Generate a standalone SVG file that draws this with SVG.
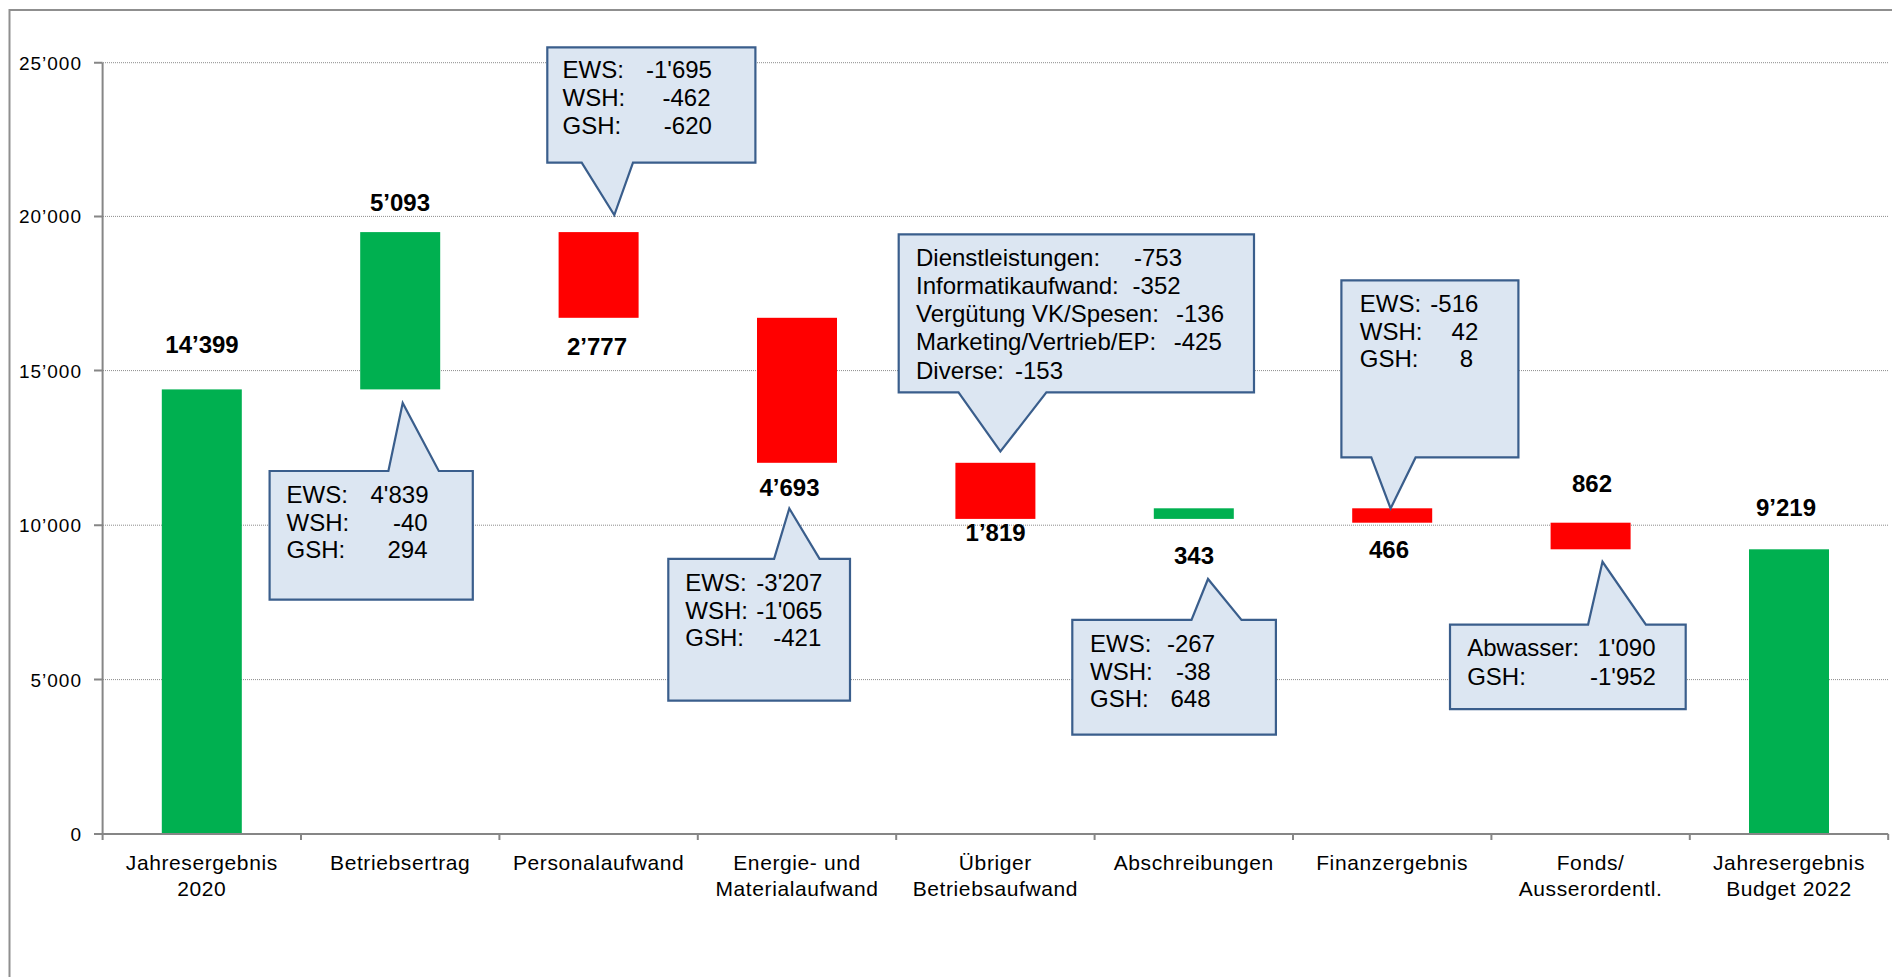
<svg xmlns="http://www.w3.org/2000/svg" width="1892" height="977" viewBox="0 0 1892 977">
<style>
.frame{fill:none;stroke:#8f8f8f;stroke-width:2}
.grid{stroke:#8c8c8c;stroke-width:1;stroke-dasharray:1 1}
.axis{stroke:#868686;stroke-width:2;fill:none}
.g{fill:#00B050}
.r{fill:#FF0000}
.ytick{font-family:"Liberation Sans",Arial,sans-serif;font-size:19px;letter-spacing:1px;text-anchor:end;fill:#000}
.cat{font-family:"Liberation Sans",Arial,sans-serif;font-size:21px;letter-spacing:0.6px;text-anchor:middle;fill:#000}
.val{font-family:"Liberation Sans",Arial,sans-serif;font-size:24px;font-weight:bold;text-anchor:middle;fill:#000}
.co{fill:#DCE6F2;stroke:#3A5E8C;stroke-width:2.2;stroke-linejoin:miter}
.ct{font-family:"Liberation Sans",Arial,sans-serif;font-size:24px;fill:#000}
</style>
<rect x="0" y="0" width="1892" height="977" fill="#fff"/>
<rect class="frame" x="9.5" y="10" width="1900" height="1000"/>
<g id="gridlines">
<line class="grid" x1="103" y1="62.7" x2="1888" y2="62.7"/>
<line class="grid" x1="103" y1="216.4" x2="1888" y2="216.4"/>
<line class="grid" x1="103" y1="370.6" x2="1888" y2="370.6"/>
<line class="grid" x1="103" y1="525.2" x2="1888" y2="525.2"/>
<line class="grid" x1="103" y1="679.6" x2="1888" y2="679.6"/>
</g>
<g id="bar-jahresergebnis-2020"><rect class="g" x="161.8" y="389.4" width="80" height="444.6"/><text class="val" x="202" y="353">14’399</text></g>
<g id="bar-betriebsertrag"><rect class="g" x="360.2" y="232.1" width="80" height="157.3"/><text class="val" x="400" y="211">5’093</text></g>
<g id="bar-personalaufwand"><rect class="r" x="558.6" y="232.1" width="80" height="85.7"/><text class="val" x="597" y="355">2’777</text></g>
<g id="bar-energie"><rect class="r" x="757" y="317.8" width="80" height="145"/><text class="val" x="789.5" y="496">4’693</text></g>
<g id="bar-uebriger"><rect class="r" x="955.4" y="462.8" width="80" height="56.1"/><text class="val" x="995.6" y="541">1’819</text></g>
<g id="bar-abschreibungen"><rect class="g" x="1153.8" y="508.3" width="80" height="10.6"/><text class="val" x="1194" y="564">343</text></g>
<g id="bar-finanzergebnis"><rect class="r" x="1352.2" y="508.3" width="80" height="14.4"/><text class="val" x="1389" y="557.5">466</text></g>
<g id="bar-fonds"><rect class="r" x="1550.6" y="522.7" width="80" height="26.6"/><text class="val" x="1592" y="491.5">862</text></g>
<g id="bar-jahresergebnis-2022"><rect class="g" x="1749" y="549.3" width="80" height="284.7"/><text class="val" x="1786" y="516">9’219</text></g>
<g id="axes">
<path class="axis" d="M102.6 62.7 V834 H1888.2"/>
<path class="axis" d="M94 62.7 H102.6 M94 216.4 H102.6 M94 370.6 H102.6 M94 525.2 H102.6 M94 679.6 H102.6 M94 834 H102.6"/>
<path class="axis" d="M102.6 834 V840 M301 834 V840 M499.4 834 V840 M697.8 834 V840 M896.2 834 V840 M1094.6 834 V840 M1293 834 V840 M1491.4 834 V840 M1689.8 834 V840 M1888.2 834 V840"/>
<text class="ytick" x="82" y="69.7">25’000</text>
<text class="ytick" x="82" y="223.4">20’000</text>
<text class="ytick" x="82" y="377.6">15’000</text>
<text class="ytick" x="82" y="532.2">10’000</text>
<text class="ytick" x="82" y="686.6">5’000</text>
<text class="ytick" x="82" y="841">0</text>
</g>
<g id="category-labels">
<text class="cat" x="201.8" y="870">Jahresergebnis<tspan x="201.8" y="895.6">2020</tspan></text>
<text class="cat" x="400.2" y="870">Betriebsertrag</text>
<text class="cat" x="598.6" y="870">Personalaufwand</text>
<text class="cat" x="797" y="870">Energie- und<tspan x="797" y="895.6">Materialaufwand</tspan></text>
<text class="cat" x="995.4" y="870">Übriger<tspan x="995.4" y="895.6">Betriebsaufwand</tspan></text>
<text class="cat" x="1193.8" y="870">Abschreibungen</text>
<text class="cat" x="1392.2" y="870">Finanzergebnis</text>
<text class="cat" x="1590.6" y="870">Fonds/<tspan x="1590.6" y="895.6">Ausserordentl.</tspan></text>
<text class="cat" x="1789" y="870">Jahresergebnis<tspan x="1789" y="895.6">Budget 2022</tspan></text>
</g>
<g id="callout-personalaufwand">
<path class="co" d="M547.3 47.3 H755.4 V162.7 H633 L614.3 215 L581.7 162.7 H547.3 Z"/>
<text class="ct" y="77.7"><tspan x="562.5">EWS:</tspan><tspan x="646">-1'695</tspan></text>
<text class="ct" y="106"><tspan x="562.5">WSH:</tspan><tspan x="662.5">-462</tspan></text>
<text class="ct" y="133.5"><tspan x="562.5">GSH:</tspan><tspan x="663.8">-620</tspan></text>
</g>
<g id="callout-betriebsertrag">
<path class="co" d="M269.6 471 H388.4 L402.7 402.9 L438.8 471 H472.8 V599.6 H269.6 Z"/>
<text class="ct" y="503"><tspan x="286.6">EWS:</tspan><tspan x="370.5">4'839</tspan></text>
<text class="ct" y="530.5"><tspan x="286.6">WSH:</tspan><tspan x="392.9">-40</tspan></text>
<text class="ct" y="557.5"><tspan x="286.6">GSH:</tspan><tspan x="387.5">294</tspan></text>
</g>
<g id="callout-energie">
<path class="co" d="M668.3 558.8 H774.1 L789.3 508.5 L819.6 558.8 H850 V700.7 H668.3 Z"/>
<text class="ct" y="591.2"><tspan x="685.3">EWS:</tspan><tspan x="756.3">-3'207</tspan></text>
<text class="ct" y="619.1"><tspan x="685.3">WSH:</tspan><tspan x="756.3">-1'065</tspan></text>
<text class="ct" y="646.3"><tspan x="685.3">GSH:</tspan><tspan x="773.2">-421</tspan></text>
</g>
<g id="callout-uebriger">
<path class="co" d="M898.7 234.3 H1254 V392.3 H1046.4 L1000.4 451.5 L958.5 392.3 H898.7 Z"/>
<text class="ct" y="265.7"><tspan x="916">Dienstleistungen:</tspan><tspan x="1134">-753</tspan></text>
<text class="ct" y="294.3"><tspan x="916">Informatikaufwand:</tspan><tspan x="1132.6">-352</tspan></text>
<text class="ct" y="321.7"><tspan x="916">Vergütung VK/Spesen:</tspan><tspan x="1176">-136</tspan></text>
<text class="ct" y="350"><tspan x="916">Marketing/Vertrieb/EP:</tspan><tspan x="1173.7">-425</tspan></text>
<text class="ct" y="379.3"><tspan x="916">Diverse:</tspan><tspan x="1015">-153</tspan></text>
</g>
<g id="callout-abschreibungen">
<path class="co" d="M1072.3 619.9 H1191.5 L1208 579 L1241.5 619.9 H1275.9 V734.6 H1072.3 Z"/>
<text class="ct" y="651.5"><tspan x="1090">EWS:</tspan><tspan x="1167">-267</tspan></text>
<text class="ct" y="679.5"><tspan x="1090">WSH:</tspan><tspan x="1175.9">-38</tspan></text>
<text class="ct" y="707"><tspan x="1090">GSH:</tspan><tspan x="1170.5">648</tspan></text>
</g>
<g id="callout-finanzergebnis">
<path class="co" d="M1341.4 280.3 H1518.4 V457.4 H1415.6 L1390.6 508.5 L1371.3 457.4 H1341.4 Z"/>
<text class="ct" y="311.7"><tspan x="1359.8">EWS:</tspan><tspan x="1430.3">-516</tspan></text>
<text class="ct" y="340"><tspan x="1359.8">WSH:</tspan><tspan x="1451.6">42</tspan></text>
<text class="ct" y="367.3"><tspan x="1359.8">GSH:</tspan><tspan x="1459.8">8</tspan></text>
</g>
<g id="callout-fonds">
<path class="co" d="M1450 624.6 H1588.1 L1602.5 561.8 L1645.9 624.6 H1685.7 V709.2 H1450 Z"/>
<text class="ct" y="656.3"><tspan x="1467.2">Abwasser:</tspan><tspan x="1597.5">1'090</tspan></text>
<text class="ct" y="685"><tspan x="1467.2">GSH:</tspan><tspan x="1590">-1'952</tspan></text>
</g>
</svg>
